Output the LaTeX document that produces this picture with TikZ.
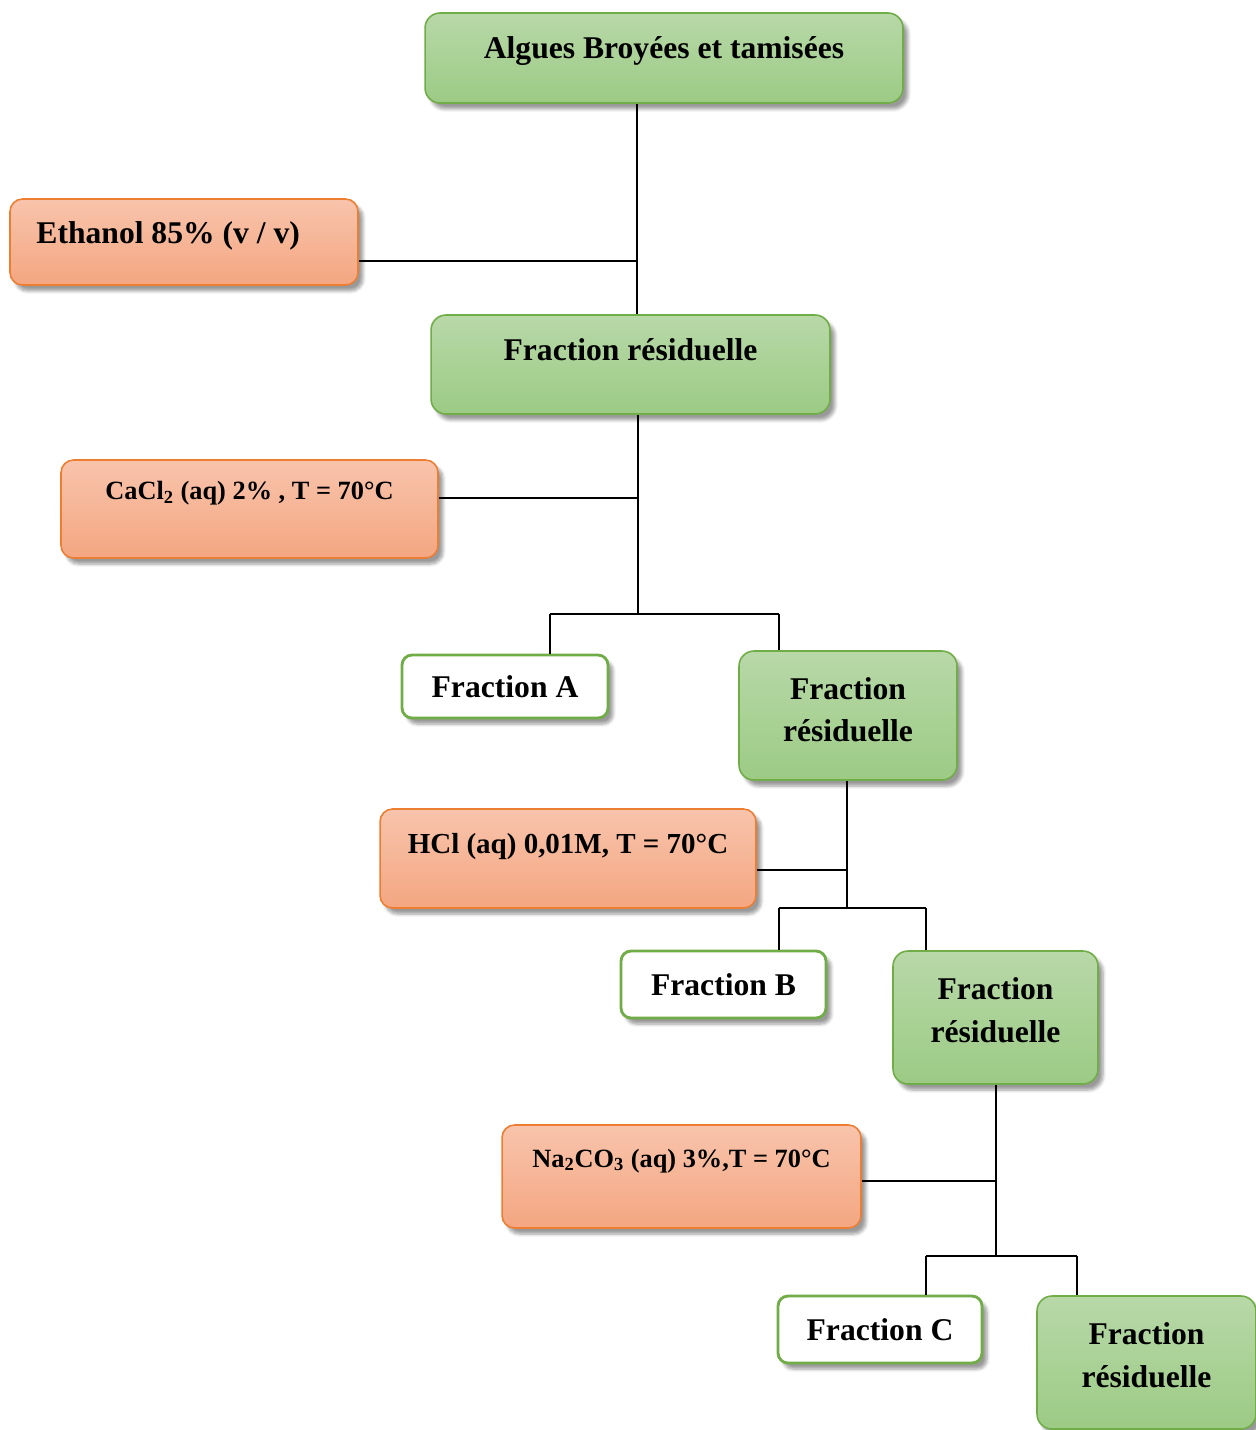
\documentclass[tikz,border=0pt]{standalone}
\usepackage{fontspec}
\setmainfont{Liberation Serif}
\usetikzlibrary{shadows, shadows.blur, positioning}

\definecolor{greentop}{RGB}{184,216,168}
\definecolor{greenbot}{RGB}{156,203,133}
\definecolor{greenline}{RGB}{112,173,71}
\definecolor{orangetop}{RGB}{248,196,172}
\definecolor{orangebot}{RGB}{244,166,129}
\definecolor{orangeline}{RGB}{237,125,49}

% raise the text of a box without changing its size
\newcommand{\lift}[2]{\raisebox{#1}[0pt][0pt]{#2}}

\begin{document}
\begin{tikzpicture}[
	x=0.02cm, y=-0.02cm,
	greenbox/.style={draw=greenline, line width=0.9pt, rounded corners=0.3cm,
		top color=greentop, bottom color=greenbot,
		blur shadow={shadow xshift=1mm, shadow yshift=-1.2mm, shadow blur steps=6},
		font=\bfseries\fontsize{18}{24}\selectfont, align=center},
	orangebox/.style={draw=orangeline, line width=0.9pt, rounded corners=0.25cm,
		top color=orangetop, bottom color=orangebot,
		blur shadow={shadow xshift=1mm, shadow yshift=-1.2mm, shadow blur steps=6},
		font=\bfseries\fontsize{15}{18}\selectfont},
	whitebox/.style={draw=greenline, line width=1.6pt, rounded corners=0.2cm, fill=white,
		blur shadow={shadow xshift=1mm, shadow yshift=-1.2mm, shadow blur steps=6},
		font=\bfseries\fontsize{18}{24}\selectfont},
	link/.style={draw, line width=0.8pt}
	]
	\useasboundingbox (0,0) rectangle (1256,1430);

	% boxes
	\node[greenbox, minimum width=9.56cm, minimum height=1.8cm] (alg) at (664,58)
	{\lift{0pt}{Algues Broyées et tamisées}};
	\node[orangebox, minimum width=6.96cm, minimum height=1.72cm,
		font=\bfseries\fontsize{18}{24}\selectfont] (eth) at (184,242)
	{\lift{-1pt}{\kern-9pt Ethanol 85\% (v / v)\kern9pt}};
	\node[greenbox, minimum width=7.98cm, minimum height=1.98cm] (fr1) at (630.5,364.5)
	{\lift{2pt}{Fraction résiduelle}};
	\node[orangebox, minimum width=7.54cm, minimum height=1.96cm] (cacl) at (249.5,509)
	{\lift{5.5pt}{CaCl\textsubscript{2} (aq) 2\% , T = 70°C}};
	\node[whitebox, minimum width=4.12cm, minimum height=1.26cm] (fa) at (505,686.5)
	{Fraction A};
	\node[greenbox, minimum width=4.36cm, minimum height=2.58cm] (fr2) at (848,715.5)
	{\lift{-2.5pt}{\begin{tabular}{@{}c@{}}Fraction\\résiduelle\end{tabular}}};
	\node[orangebox, minimum width=7.52cm, minimum height=1.98cm,
		font=\bfseries\fontsize{16.5}{20}\selectfont] (hcl) at (568,858.5)
	{\lift{3pt}{HCl (aq) 0,01M, T = 70°C}};
	\node[whitebox, minimum width=4.1cm, minimum height=1.34cm] (fb) at (723.5,984.5)
	{Fraction B};
	\node[greenbox, minimum width=4.1cm, minimum height=2.66cm] (fr3) at (995.5,1017.5)
	{\lift{-1.5pt}{\begin{tabular}{@{}c@{}}Fraction\\résiduelle\end{tabular}}};
	\node[orangebox, minimum width=7.18cm, minimum height=2.06cm] (na) at (681.5,1176.5)
	{\lift{5.3pt}{Na\textsubscript{2}CO\textsubscript{3} (aq) 3\%,T = 70°C}};
	\node[whitebox, minimum width=4.08cm, minimum height=1.34cm] (fc) at (880,1329.5)
	{Fraction C};
	\node[greenbox, minimum width=4.38cm, minimum height=2.66cm] (fr4) at (1146.5,1362.5)
	{\lift{-1.5pt}{\begin{tabular}{@{}c@{}}Fraction\\résiduelle\end{tabular}}};

	% junctions
	\coordinate (j1) at (637,261);
	\coordinate (j2) at (638,498);
	\coordinate (s1) at (638,614);
	\coordinate (s1a) at (550,614);
	\coordinate (s1b) at (779,614);
	\coordinate (j3) at (847,870);
	\coordinate (s2) at (847,908);
	\coordinate (s2a) at (779,908);
	\coordinate (s2b) at (926,908);
	\coordinate (j4) at (996,1181);
	\coordinate (s3) at (996,1256);
	\coordinate (s3a) at (926,1256);
	\coordinate (s3b) at (1077,1256);

	% links
	\draw[link] (alg.south -| j1) -- (fr1.north -| j1);
	\draw[link] (eth.east |- j1) -- (j1);
	\draw[link] (fr1.south -| s1) -- (s1);
	\draw[link] (cacl.east |- j2) -- (j2);
	\draw[link] (s1a) -- (s1b);
	\draw[link] (s1a) -- (s1a |- fa.north);
	\draw[link] (s1b) -- (s1b |- fr2.north);

	\draw[link] (fr2.south -| s2) -- (s2);
	\draw[link] (hcl.east |- j3) -- (j3);
	\draw[link] (s2a) -- (s2b);
	\draw[link] (s2a) -- (s2a |- fb.north);
	\draw[link] (s2b) -- (s2b |- fr3.north);

	\draw[link] (fr3.south -| s3) -- (s3);
	\draw[link] (na.east |- j4) -- (j4);
	\draw[link] (s3a) -- (s3b);
	\draw[link] (s3a) -- (s3a |- fc.north);
	\draw[link] (s3b) -- (s3b |- fr4.north);
\end{tikzpicture}
\end{document}
